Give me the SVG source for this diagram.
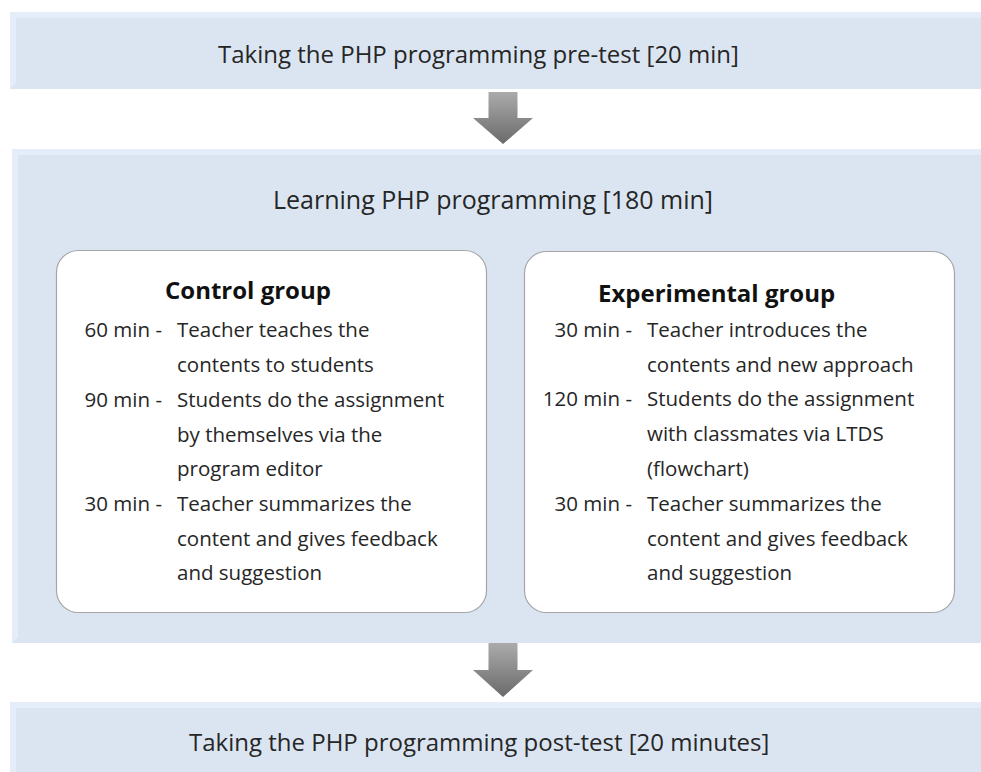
<svg xmlns="http://www.w3.org/2000/svg" width="981" height="772" viewBox="0 0 981 772">
  <defs>
    <linearGradient id="arrowGrad" x1="0" y1="0" x2="0" y2="1">
      <stop offset="0" stop-color="#ababab"/>
      <stop offset="1" stop-color="#6a6a6a"/>
    </linearGradient>
    <style>
      .band { fill: #dbe5f1; }
      .bevel { fill: #e4edf8; }
      .card { fill: #ffffff; stroke: #a6a6a6; stroke-width: 1.2; }
      .t { font-family: "Open Sans", "Noto Sans", sans-serif; fill: #262626; }
      .big { font-size: 24px; }
      .head { font-size: 24px; font-weight: bold; fill: #111111; }
      .body { font-size: 20.5px; }
      .lab { text-anchor: end; }
      .arrow { fill: url(#arrowGrad); }
    </style>
  </defs>

  <g id="pretest">
    <rect class="band" x="10" y="12" width="975" height="77"/>
    <polygon class="bevel" points="10,12 985,12 985,18 16,18 16,83 10,89"/>
    <text class="t big" x="218" y="63">Taking the PHP programming pre-test [20 min]</text>
  </g>

  <g id="learning">
    <rect class="band" x="12" y="149" width="973" height="494"/>
    <polygon class="bevel" points="12,149 985,149 985,155 18,155 18,637 12,643"/>
    <text class="t big" x="273" y="209" style="font-size:25px">Learning PHP programming [180 min]</text>
  </g>

  <g id="control">
    <rect class="card" x="56.5" y="250.5" width="430" height="362" rx="22" ry="22"/>
    <text class="t head" x="165" y="299">Control group</text>
    <text class="t body lab" x="162" y="337">60 min -</text>
    <text class="t body" x="177" y="337">Teacher teaches the</text>
    <text class="t body" x="177" y="372">contents to students</text>
    <text class="t body lab" x="162" y="407">90 min -</text>
    <text class="t body" x="177" y="407">Students do the assignment</text>
    <text class="t body" x="177" y="442">by themselves via the</text>
    <text class="t body" x="177" y="476">program editor</text>
    <text class="t body lab" x="162" y="511">30 min -</text>
    <text class="t body" x="177" y="511">Teacher summarizes the</text>
    <text class="t body" x="177" y="546">content and gives feedback</text>
    <text class="t body" x="177" y="580">and suggestion</text>
  </g>

  <g id="experimental">
    <rect class="card" x="524.5" y="251.5" width="430" height="361" rx="22" ry="22"/>
    <text class="t head" x="598" y="302">Experimental group</text>
    <text class="t body lab" x="632" y="337">30 min -</text>
    <text class="t body" x="647" y="337">Teacher introduces the</text>
    <text class="t body" x="647" y="372">contents and new approach</text>
    <text class="t body lab" x="632" y="406">120 min -</text>
    <text class="t body" x="647" y="406">Students do the assignment</text>
    <text class="t body" x="647" y="441">with classmates via LTDS</text>
    <text class="t body" x="647" y="476">(flowchart)</text>
    <text class="t body lab" x="632" y="511">30 min -</text>
    <text class="t body" x="647" y="511">Teacher summarizes the</text>
    <text class="t body" x="647" y="546">content and gives feedback</text>
    <text class="t body" x="647" y="580">and suggestion</text>
  </g>

  <g id="posttest">
    <rect class="band" x="10" y="702" width="975" height="72"/>
    <polygon class="bevel" points="10,702 985,702 985,708 16,708 16,772 10,772"/>
    <text class="t big" x="189" y="751">Taking the PHP programming post-test [20 minutes]</text>
  </g>

  <g id="connectors">
    <polygon class="arrow" points="488.5,92 517.5,92 517.5,118 533,118 503,144 473,118 488.5,118"/>
    <polygon class="arrow" points="488.5,643 517.5,643 517.5,670 533,670 503,697 473,670 488.5,670"/>
  </g>
</svg>
